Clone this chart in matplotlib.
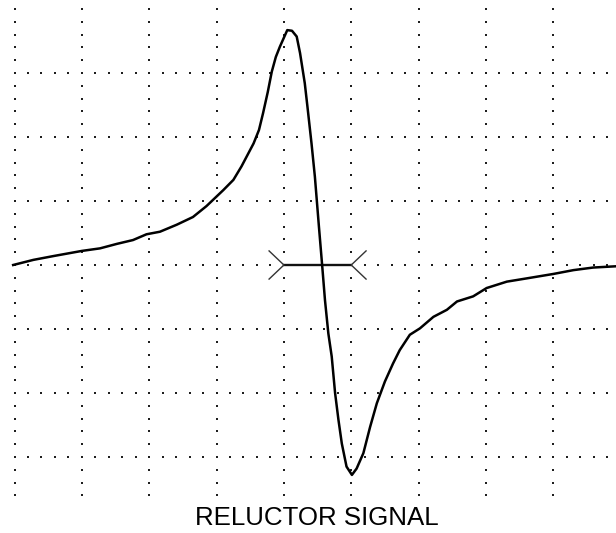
import numpy as np
import matplotlib
matplotlib.use("Agg")
import matplotlib.pyplot as plt

# Signal trace (x in horizontal divisions, y in vertical divisions)
sig_x = [-0.02, 0.28, 0.58, 1.0, 1.27, 1.52, 1.76, 1.96, 2.16, 2.41, 2.65, 2.85, 2.95,
         3.05, 3.10, 3.25, 3.37, 3.47, 3.55, 3.63, 3.69, 3.76, 3.82, 3.88, 3.94, 4.05,
         4.12, 4.19, 4.24, 4.31, 4.35, 4.41, 4.46, 4.52, 4.57, 4.61, 4.66,
         4.71, 4.76, 4.81, 4.86, 4.93, 5.01, 5.08, 5.18, 5.28, 5.38, 5.50, 5.62, 5.72,
         5.87, 6.02, 6.22, 6.42, 6.57, 6.81, 7.01, 7.31, 7.60, 8.0, 8.30, 8.59, 8.93]
sig_y = [0.0, 0.08, 0.14, 0.22, 0.26, 0.33, 0.39, 0.48, 0.52, 0.63, 0.75, 0.92, 1.02,
         1.12, 1.17, 1.33, 1.54, 1.74, 1.90, 2.11, 2.37, 2.70, 3.02, 3.25, 3.41, 3.67,
         3.66, 3.57, 3.31, 2.84, 2.47, 1.90, 1.38, 0.60, -0.03, -0.55, -1.07,
         -1.43, -2.0, -2.42, -2.79, -3.15, -3.28, -3.18, -2.94, -2.53, -2.16, -1.82, -1.54, -1.33,
         -1.09, -0.99, -0.81, -0.70, -0.57, -0.49, -0.36, -0.26, -0.21, -0.14, -0.08, -0.04, -0.02]

# Graticule
major_x = [0, 1, 2, 3, 4, 5, 6, 7, 8]
major_y = [-3, -2, -1, 0, 1, 2, 3]
title = "RELUCTOR SIGNAL"

# Cursor marker (from x=4 to x=5 at y=0)
cursor_x = [4, 5]
cursor_y = 0

fig = plt.figure(figsize=(6.16, 5.33), dpi=100)
ax = fig.add_axes([0, 0, 1, 1])
ax.set_xlim(-0.2153, 8.931)
ax.set_ylim(-4.1875, 4.1406)
ax.axis("off")

dot_kw = dict(linestyle="none", marker="s", markersize=1.9, markeredgewidth=0,
              color="#1e1e1e", zorder=1)
ys = np.arange(-3.6, 4.0001, 0.2)
for xv in major_x:
    ax.plot(np.full_like(ys, xv), ys, **dot_kw)
xs = np.arange(0, 8.8001, 0.2)
for yv in major_y:
    ax.plot(xs, np.full_like(xs, yv), **dot_kw)

# Cursor
ax.plot(cursor_x, [cursor_y, cursor_y], color="#111111", lw=1.7, zorder=3)
d = 0.22
for xv, sgn in [(cursor_x[0], -1), (cursor_x[1], 1)]:
    ax.plot([xv + sgn * d, xv, xv + sgn * d], [cursor_y + d, cursor_y, cursor_y - d],
            color="#333333", lw=1.0, zorder=3)

ax.plot(sig_x, sig_y, color="black", lw=1.8, zorder=4)

ax.text(4.484, -4.06, title, ha="center", va="baseline", fontsize=18.6,
        family=["Liberation Sans", "DejaVu Sans"], color="black")

fig.savefig("out.png", dpi=100)
